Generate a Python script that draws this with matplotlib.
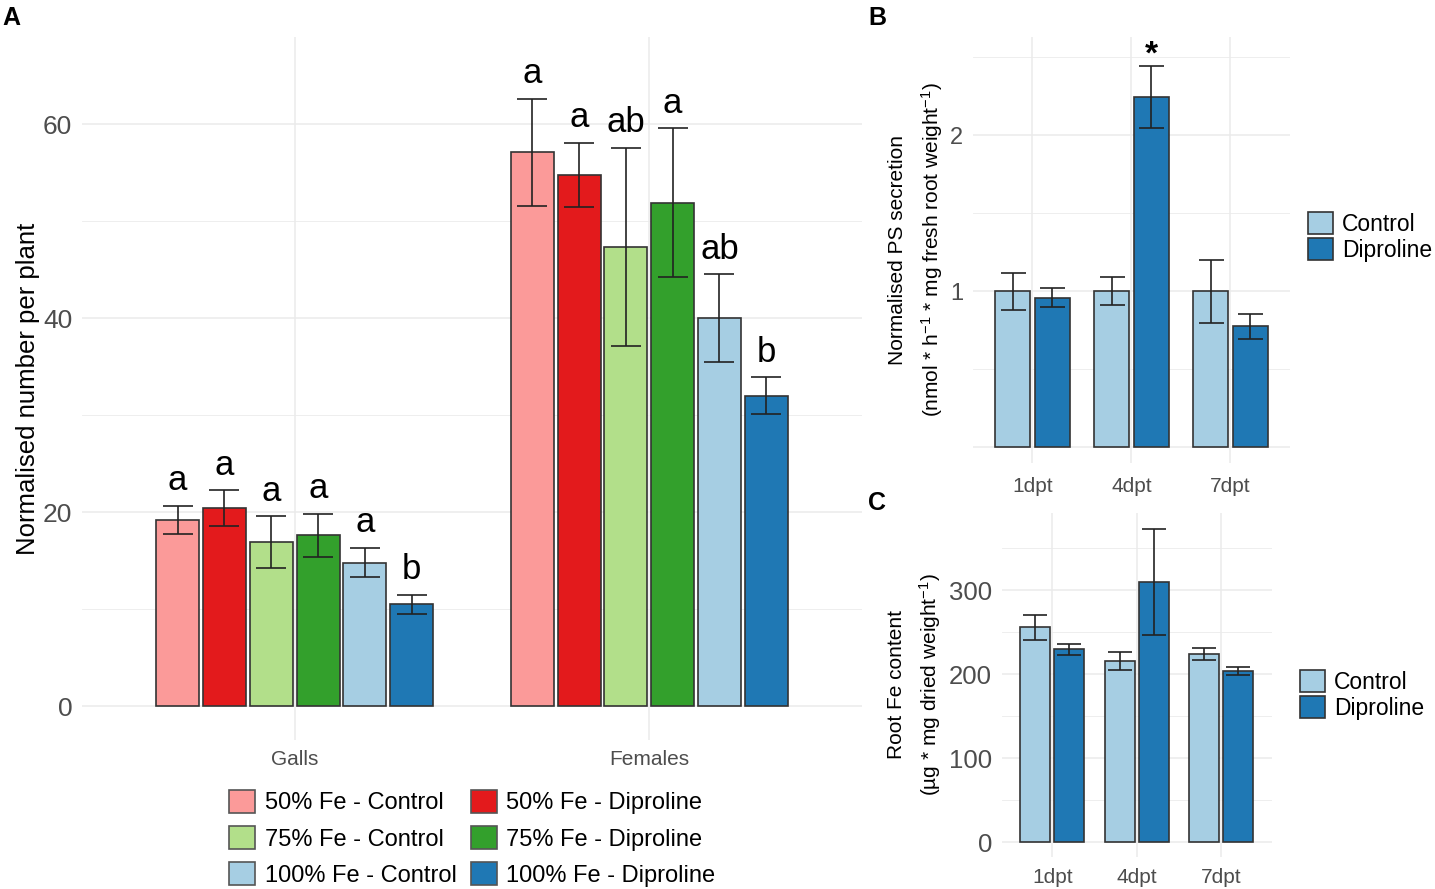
import numpy as np
import matplotlib
matplotlib.use("Agg")
import matplotlib.pyplot as plt
from matplotlib.patches import Patch

plt.rcParams['font.family'] = ['Liberation Sans', 'DejaVu Sans']
plt.rcParams['mathtext.fontset'] = 'custom'
plt.rcParams['mathtext.rm'] = 'Liberation Sans'
plt.rcParams['mathtext.it'] = 'Liberation Sans'

# panel A data
groups = ['Galls', 'Females']
treatments = ['50% Fe - Control', '50% Fe - Diproline',
              '75% Fe - Control', '75% Fe - Diproline',
              '100% Fe - Control', '100% Fe - Diproline']
colors = ['#FB9A99', '#E31A1C', '#B2DF8A', '#33A02C', '#A6CEE3', '#1F78B4']
galls_mean = [19.2, 20.4, 16.9, 17.6, 14.8, 10.5]
galls_err = [1.45, 1.85, 2.65, 2.25, 1.5, 1.0]
galls_letters = ['a', 'a', 'a', 'a', 'a', 'b']
females_mean = [57.1, 54.8, 47.35, 51.9, 40.0, 32.0]
females_err = [5.55, 3.3, 10.2, 7.7, 4.55, 1.9]
females_letters = ['a', 'a', 'ab', 'a', 'ab', 'b']

# panel B data
timepoints = ['1dpt', '4dpt', '7dpt']
ps_control = [1.0, 1.0, 1.0]
ps_control_err = [0.12, 0.09, 0.2]
ps_dipro = [0.96, 2.245, 0.776]
ps_dipro_err = [0.06, 0.2, 0.08]
ps_sig = ['', '*', '']

# panel C data
fe_control = [255.6, 215.6, 224.0]
fe_control_err = [15, 11, 7.5]
fe_dipro = [229.8, 310.0, 204.0]
fe_dipro_err = [6.5, 63, 4.5]

light, dark = '#A6CEE3', '#1F78B4'
edge = '#333333'
tickcol = '#4D4D4D'
gridcol = '#EBEBEB'


def style_axis(ax):
    for s in ax.spines.values():
        s.set_visible(False)
    ax.set_axisbelow(True)
    ax.grid(True, which='major', color=gridcol, lw=1.1)
    ax.grid(True, which='minor', axis='y', color=gridcol, lw=0.6)
    ax.tick_params(which='both', length=0)


fig = plt.figure(figsize=(14.35, 8.89), dpi=100)

# ---- A ----
axA = fig.add_axes([0.0571, 0.1676, 0.5436, 0.7908])
style_axis(axA)
xg = np.arange(len(groups)) + 1
step, bw = 0.132, 0.121
for i in range(6):
    means = [galls_mean[i], females_mean[i]]
    errs = [galls_err[i], females_err[i]]
    xs = xg + (i - 2.5) * step
    axA.bar(xs, means, width=bw, color=colors[i], edgecolor=edge, lw=1.2, zorder=2)
    axA.errorbar(xs, means, yerr=errs, fmt='none', ecolor='#222222', elinewidth=1.2,
                 capsize=10.5, capthick=1.2, zorder=3)
    for x, m, e, lab in zip(xs, means, errs, [galls_letters[i], females_letters[i]]):
        axA.text(x, m + e + 1.6, lab, ha='center', va='baseline', fontsize=25)
axA.set_xlim(0.4, 2.6)
axA.set_ylim(-3.5, 69)
axA.set_xticks(xg)
axA.set_xticklabels(groups, fontsize=15, color=tickcol)
axA.set_yticks([0, 20, 40, 60])
axA.set_yticks([10, 30, 50], minor=True)
axA.tick_params(axis='y', labelsize=19, labelcolor=tickcol, pad=7)
axA.tick_params(axis='x', pad=7)
axA.set_ylabel('Normalised number per plant', fontsize=18.5, labelpad=2)

order = [0, 2, 4, 1, 3, 5]
handles = [Patch(facecolor=colors[i], edgecolor='#555555', lw=1.2) for i in order]
labels = [treatments[i] for i in order]
fig.legend(handles, labels, ncol=2, loc='center', bbox_to_anchor=(0.329, 0.057),
           frameon=False, fontsize=17, handlelength=1.1, handleheight=1.1,
           handletextpad=0.4, columnspacing=0.6, labelspacing=0.5, borderpad=0)

# ---- B ----
axB = fig.add_axes([0.678, 0.4792, 0.2209, 0.4792])
style_axis(axB)
xt = np.arange(len(timepoints)) + 1
axB.bar(xt - 0.2, ps_control, width=0.355, color=light, edgecolor=edge, lw=1.2, zorder=2, label='Control')
axB.bar(xt + 0.2, ps_dipro, width=0.355, color=dark, edgecolor=edge, lw=1.2, zorder=2, label='Diproline')
axB.errorbar(xt - 0.2, ps_control, yerr=ps_control_err, fmt='none', ecolor='#222222',
             elinewidth=1.2, capsize=9, capthick=1.2, zorder=3)
axB.errorbar(xt + 0.2, ps_dipro, yerr=ps_dipro_err, fmt='none', ecolor='#222222',
             elinewidth=1.2, capsize=9, capthick=1.2, zorder=3)
for x, m, e, s in zip(xt + 0.2, ps_dipro, ps_dipro_err, ps_sig):
    if s:
        axB.text(x, m + e + 0.07, s, ha='center', va='center', fontsize=24, fontweight='bold')
axB.set_xlim(0.4, 3.6)
axB.set_ylim(-0.1, 2.63)
axB.set_xticks(xt)
axB.set_xticklabels(timepoints, fontsize=15, color=tickcol)
axB.set_yticks([0, 1, 2])
axB.set_yticklabels(['', '1', '2'])
axB.set_yticks([0.5, 1.5, 2.5], minor=True)
axB.tick_params(axis='y', labelsize=17, labelcolor=tickcol, pad=7)
axB.tick_params(axis='x', pad=10)
axB.set_ylabel('Normalised PS secretion\n(nmol * h$^{-1}$ * mg fresh root weight$^{-1}$)',
               fontsize=15, labelpad=4, linespacing=1.6)
axB.legend(loc='center left', bbox_to_anchor=(0.057, 0.53), bbox_transform=axB.transAxes,
           frameon=False, fontsize=16.5, handlelength=1.1, handleheight=1.1,
           handletextpad=0.38, labelspacing=0.08, borderpad=0, borderaxespad=0)
axB.get_legend().set_bbox_to_anchor((1.057, 0.53), transform=axB.transAxes)

# ---- C ----
axC = fig.add_axes([0.698, 0.0363, 0.1884, 0.3866])
style_axis(axC)
axC.bar(xt - 0.2, fe_control, width=0.355, color=light, edgecolor=edge, lw=1.2, zorder=2, label='Control')
axC.bar(xt + 0.2, fe_dipro, width=0.355, color=dark, edgecolor=edge, lw=1.2, zorder=2, label='Diproline')
axC.errorbar(xt - 0.2, fe_control, yerr=fe_control_err, fmt='none', ecolor='#222222',
             elinewidth=1.2, capsize=8.5, capthick=1.2, zorder=3)
axC.errorbar(xt + 0.2, fe_dipro, yerr=fe_dipro_err, fmt='none', ecolor='#222222',
             elinewidth=1.2, capsize=8.5, capthick=1.2, zorder=3)
axC.set_xlim(0.4, 3.6)
axC.set_ylim(-17, 391.5)
axC.set_xticks(xt)
axC.set_xticklabels(timepoints, fontsize=15, color=tickcol)
axC.set_yticks([0, 100, 200, 300])
axC.set_yticks([50, 150, 250, 350], minor=True)
axC.tick_params(axis='y', labelsize=18.5, labelcolor=tickcol, pad=7)
axC.tick_params(axis='x', pad=8)
axC.set_ylabel('Root Fe content\n(µg * mg dried weight$^{-1}$)', fontsize=15, labelpad=4,
               linespacing=1.6)
axC.legend(loc='center left', bbox_to_anchor=(1.104, 0.47), frameon=False, fontsize=16.5,
           handlelength=1.1, handleheight=1.1, handletextpad=0.38, labelspacing=0.08,
           borderpad=0, borderaxespad=0)

fig.text(0.002, 0.993, 'A', fontsize=18, fontweight='bold', va='top')
fig.text(0.605, 0.993, 'B', fontsize=18, fontweight='bold', va='top')
fig.text(0.605, 0.448, 'C', fontsize=18, fontweight='bold', va='top')

fig.savefig('out.png', dpi=100, facecolor='white')
